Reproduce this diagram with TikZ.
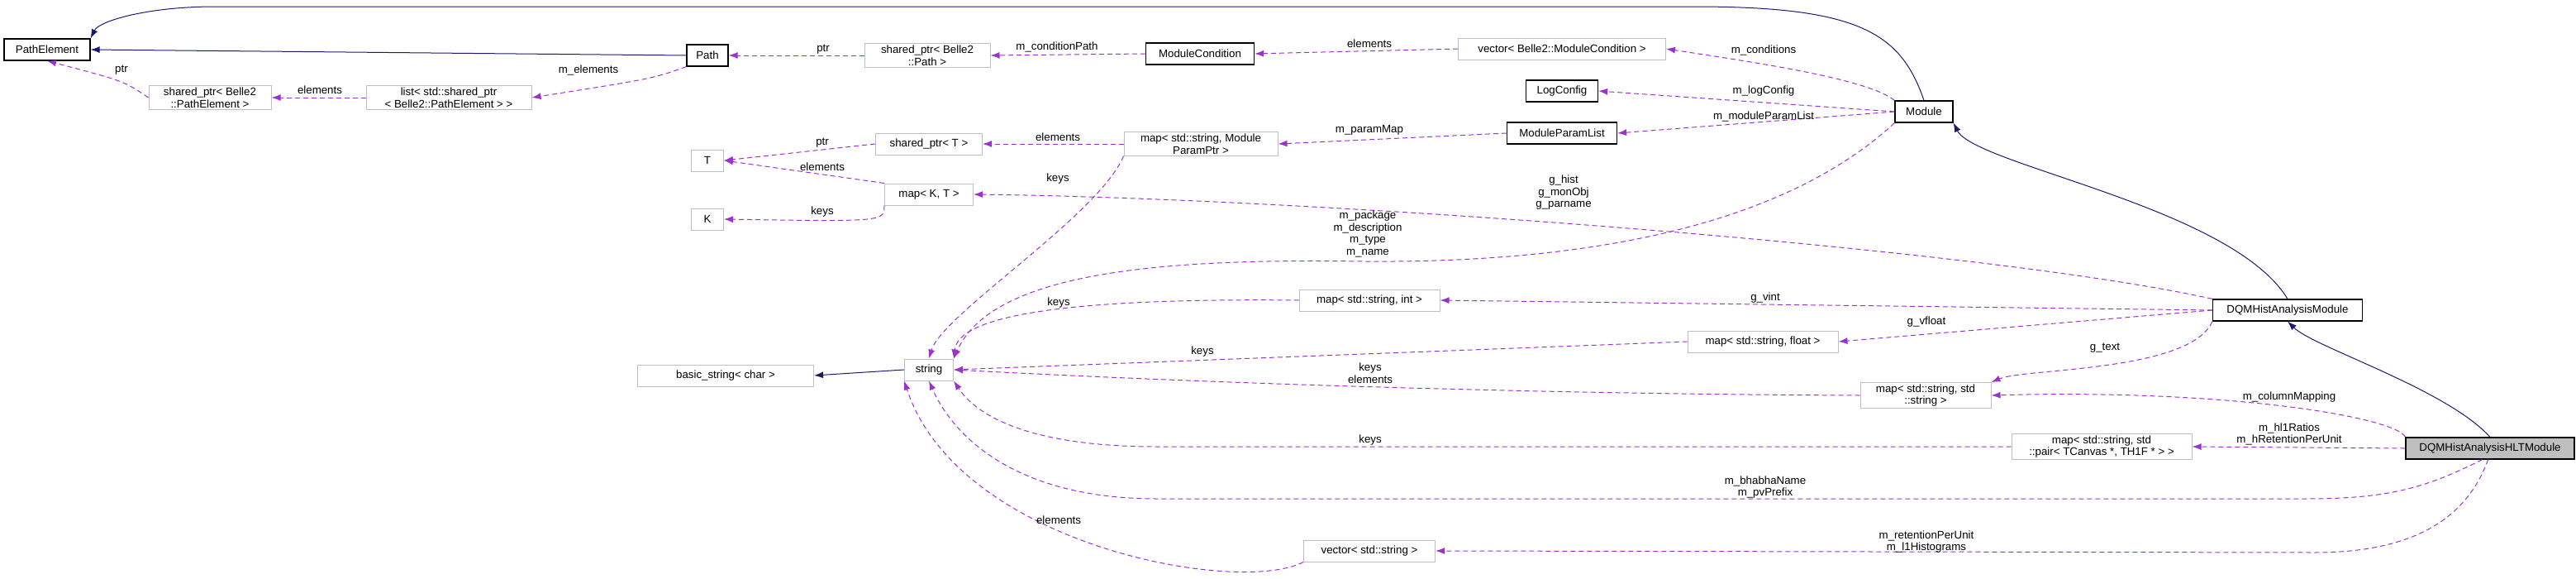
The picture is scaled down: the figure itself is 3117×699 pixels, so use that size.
\documentclass[tikz,border=0pt]{standalone}
\usepackage{fontspec}
\setmainfont{Liberation Sans}
\usetikzlibrary{arrows.meta}
\definecolor{inhblue}{HTML}{191970}
\definecolor{usepurple}{HTML}{9A32CD}
\definecolor{boxgrey}{HTML}{BFBFBF}
\tikzset{
  cls/.style={draw=black, line width=1.2pt, fill=white, inner sep=2pt, minimum height=26pt, align=center},
  ext/.style={draw=boxgrey, line width=1pt, fill=white, inner sep=2pt, minimum height=26pt, align=center},
  hlt/.style={cls, fill=boxgrey},
  inh/.style={draw=inhblue, line width=1pt, -{Latex[length=11pt,width=8pt]}},
  use/.style={draw=usepurple, line width=1pt, dash pattern=on 6pt off 4pt, -{Latex[length=11pt,width=8pt]}},
  lbl/.style={align=center, inner sep=0pt, font=\fontsize{13.3}{14.5}\selectfont}
}
\begin{document}
\begin{tikzpicture}[x=1pt, y=-1pt, font=\fontsize{13.3}{14.5}\selectfont]
  \useasboundingbox (0,0) rectangle (3117,699);
  % classes
  \node[cls, minimum width=104pt] (PathElement) at (57,60)   {PathElement};
  \node[cls, minimum width=50pt]  (Path)        at (856,67)  {Path};
  \node[ext, minimum width=148pt] (SharedPE)    at (254,118) {shared\_ptr< Belle2\\::PathElement >};
  \node[ext, minimum width=200pt] (ListPE)      at (543,118) {list< std::shared\_ptr\\< Belle2::PathElement > >};
  \node[ext, minimum width=152pt] (SharedPath)  at (1122,67) {shared\_ptr< Belle2\\::Path >};
  \node[cls, minimum width=131pt] (ModCond)     at (1452,65) {ModuleCondition};
  \node[ext, minimum width=251pt] (VecModCond)  at (1890,59) {vector< Belle2::ModuleCondition >};
  \node[cls, minimum width=87pt]  (LogConfig)   at (1890,110) {LogConfig};
  \node[cls, minimum width=133pt] (ParamList)   at (1890,161) {ModuleParamList};
  \node[cls, minimum width=70pt]  (Module)      at (2328,135) {Module};
  \node[ext, minimum width=186pt] (MapParam)    at (1453,174) {map< std::string, Module\\ParamPtr >};
  \node[ext, minimum width=129pt] (SharedT)     at (1124,174) {shared\_ptr< T >};
  \node[ext, minimum width=107pt] (MapKT)       at (1124,235) {map< K, T >};
  \node[ext, minimum width=39pt]  (T)           at (856,194) {T};
  \node[ext, minimum width=39pt]  (K)           at (856,265) {K};
  \node[ext, minimum width=170pt] (MapInt)      at (1657,363) {map< std::string, int >};
  \node[cls, minimum width=181pt] (DQM)         at (2768,375) {DQMHistAnalysisModule};
  \node[ext, minimum width=182pt] (MapFloat)    at (2133,413) {map< std::string, float >};
  \node[ext, minimum width=59pt]  (String)      at (1124,447) {string};
  \node[ext, minimum width=213pt] (BasicString) at (878,454) {basic\_string< char >};
  \node[ext, minimum width=158pt] (MapSS)       at (2330,478) {map< std::string, std\\::string >};
  \node[ext, minimum width=218pt] (MapPair)     at (2543,540) {map< std::string, std\\::pair< TCanvas *, TH1F * > >};
  \node[hlt, minimum width=204pt] (HLT)         at (3013,542) {DQMHistAnalysisHLTModule};
  \node[ext, minimum width=159pt] (VecString)   at (1657,666) {vector< std::string >};
  % inheritance
  \draw[inh] (Path.west) -- (PathElement.east);
  \draw[inh] (Module.north) .. controls (2300,40) and (2250,8) .. (2050,8) -- (260,8) .. controls (180,8) and (120,25) .. (PathElement.north east);
  \draw[inh] (DQM.north) .. controls (2700,250) and (2390,200) .. (Module.south east);
  \draw[inh] (HLT.north) .. controls (2960,470) and (2800,420) .. (DQM.south);
  \draw[inh] (String.west) -- (BasicString.east);
  % members
  \draw[use] (SharedPE.west) .. controls (150,98) .. (PathElement.south);
  \draw[use] (ListPE.west) -- (SharedPE.east);
  \draw[use] (Path.south west) .. controls (790,95) .. (ListPE.east);
  \draw[use] (SharedPath.west) -- (Path.east);
  \draw[use] (ModCond.west) -- (SharedPath.east);
  \draw[use] (VecModCond.west) -- (ModCond.east);
  \draw[use] (Module.north west) .. controls (2260,95) and (2120,75) .. (VecModCond.east);
  \draw[use] (Module.west) -- (LogConfig.east);
  \draw[use] (Module.west) -- (ParamList.east);
  \draw[use] (ParamList.west) -- (MapParam.east);
  \draw[use] (MapParam.west) -- (SharedT.east);
  \draw[use] (SharedT.west) -- (T.east);
  \draw[use] (MapKT.north west) -- (T.east);
  \draw[use] (MapKT.south west) .. controls (1070,268) .. (K.east);
  \draw[use] (MapParam.south west) .. controls (1330,260) and (1140,380) .. (String.north);
  \draw[use] (Module.south west) .. controls (2150,280) and (1900,318) .. (1650,316) .. controls (1400,312) and (1200,330) .. (String.north east);
  \draw[use] (DQM.north west) .. controls (2400,300) and (1600,240) .. (MapKT.east);
  \draw[use] (DQM.west) -- (MapInt.east);
  \draw[use] (MapInt.west) .. controls (1300,360) and (1160,380) .. (String.north east);
  \draw[use] (DQM.west) -- (MapFloat.east);
  \draw[use] (MapFloat.west) -- (String.east);
  \draw[use] (DQM.south west) .. controls (2650,450) and (2450,445) .. (MapSS.north east);
  \draw[use] (MapSS.west) .. controls (1800,476) and (1400,460) .. (String.east);
  \draw[use] (HLT.north west) .. controls (2900,505) and (2700,470) .. (MapSS.east);
  \draw[use] (HLT.west) -- (MapPair.east);
  \draw[use] (MapPair.west) -- (1400,540) .. controls (1240,540) and (1180,500) .. (String.south east);
  \draw[use] (HLT.235) .. controls (2935,590) and (2890,603) .. (2790,603) -- (1400,603) .. controls (1220,603) and (1150,520) .. (String.south);
  \draw[use] (HLT.260) .. controls (2980,640) and (2900,668) .. (2800,668) -- (VecString.east);
  \draw[use] (VecString.south west) .. controls (1500,720) and (1160,660) .. (String.south west);
  % labels
  \node[lbl] (lPtrPE)    at (147,85)  {ptr};
  \node[lbl] (lElemPE)   at (387,109) {elements};
  \node[lbl] (lMElem)    at (712,85)  {m\_elements};
  \node[lbl] (lPtrPath)  at (996,60)  {ptr};
  \node[lbl] (lCondPath) at (1279,57) {m\_conditionPath};
  \node[lbl] (lElemMC)   at (1657,53) {elements};
  \node[lbl] (lConds)    at (2134,61) {m\_conditions};
  \node[lbl] (lLog)      at (2134,110) {m\_logConfig};
  \node[lbl] (lParList)  at (2134,141) {m\_moduleParamList};
  \node[lbl] (lParMap)   at (1657,157) {m\_paramMap};
  \node[lbl] (lElemT)    at (1280,166) {elements};
  \node[lbl] (lPtrT)     at (995,173) {ptr};
  \node[lbl] (lElemKT)   at (995,202) {elements};
  \node[lbl] (lKeysK)    at (995,256) {keys};
  \node[lbl] (lKeysMP)   at (1280,216) {keys};
  \node[lbl] (lGHist)    at (1892,233) {g\_hist\\g\_monObj\\g\_parname};
  \node[lbl] (lMPack)    at (1655,283) {m\_package\\m\_description\\m\_type\\m\_name};
  \node[lbl] (lKeysInt)  at (1281,366) {keys};
  \node[lbl] (lVint)     at (2136,360) {g\_vint};
  \node[lbl] (lVfloat)   at (2331,389) {g\_vfloat};
  \node[lbl] (lKeysFl)   at (1455,425) {keys};
  \node[lbl] (lText)     at (2547,421) {g\_text};
  \node[lbl] (lKeysSS)   at (1658,451) {keys\\elements};
  \node[lbl] (lColMap)   at (2770,480) {m\_columnMapping};
  \node[lbl] (lRatios)   at (2770,525) {m\_hl1Ratios\\m\_hRetentionPerUnit};
  \node[lbl] (lKeysPair) at (1658,532) {keys};
  \node[lbl] (lBhabha)   at (2136,589) {m\_bhabhaName\\m\_pvPrefix};
  \node[lbl] (lElemVS)   at (1281,629) {elements};
  \node[lbl] (lRetent)   at (2331,655) {m\_retentionPerUnit\\m\_l1Histograms};
\end{tikzpicture}
\end{document}
